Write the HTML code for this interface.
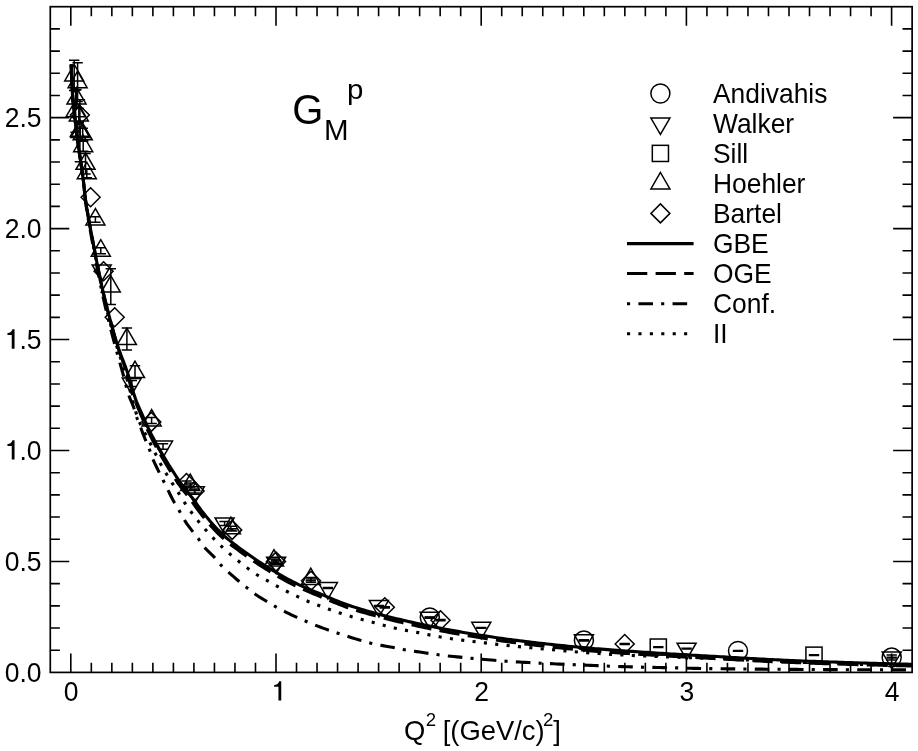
<!DOCTYPE html>
<html><head><meta charset="utf-8"><title>GMp</title>
<style>html,body{margin:0;padding:0;background:#fff}svg{display:block}text{font-family:"Liberation Sans",sans-serif;fill:#000}</style></head><body>
<svg width="918" height="751" viewBox="0 0 918 751">
<rect width="918" height="751" fill="#fff"/>
<path d="M70.80 672.40v-19.00M70.80 6.70v19.00M91.32 672.40v-9.60M91.32 6.70v9.60M111.84 672.40v-9.60M111.84 6.70v9.60M132.36 672.40v-9.60M132.36 6.70v9.60M152.88 672.40v-9.60M152.88 6.70v9.60M173.40 672.40v-9.60M173.40 6.70v9.60M193.92 672.40v-9.60M193.92 6.70v9.60M214.44 672.40v-9.60M214.44 6.70v9.60M234.96 672.40v-9.60M234.96 6.70v9.60M255.48 672.40v-9.60M255.48 6.70v9.60M276.00 672.40v-19.00M276.00 6.70v19.00M296.52 672.40v-9.60M296.52 6.70v9.60M317.04 672.40v-9.60M317.04 6.70v9.60M337.56 672.40v-9.60M337.56 6.70v9.60M358.08 672.40v-9.60M358.08 6.70v9.60M378.60 672.40v-9.60M378.60 6.70v9.60M399.12 672.40v-9.60M399.12 6.70v9.60M419.64 672.40v-9.60M419.64 6.70v9.60M440.16 672.40v-9.60M440.16 6.70v9.60M460.68 672.40v-9.60M460.68 6.70v9.60M481.20 672.40v-19.00M481.20 6.70v19.00M501.72 672.40v-9.60M501.72 6.70v9.60M522.24 672.40v-9.60M522.24 6.70v9.60M542.76 672.40v-9.60M542.76 6.70v9.60M563.28 672.40v-9.60M563.28 6.70v9.60M583.80 672.40v-9.60M583.80 6.70v9.60M604.32 672.40v-9.60M604.32 6.70v9.60M624.84 672.40v-9.60M624.84 6.70v9.60M645.36 672.40v-9.60M645.36 6.70v9.60M665.88 672.40v-9.60M665.88 6.70v9.60M686.40 672.40v-19.00M686.40 6.70v19.00M706.92 672.40v-9.60M706.92 6.70v9.60M727.44 672.40v-9.60M727.44 6.70v9.60M747.96 672.40v-9.60M747.96 6.70v9.60M768.48 672.40v-9.60M768.48 6.70v9.60M789.00 672.40v-9.60M789.00 6.70v9.60M809.52 672.40v-9.60M809.52 6.70v9.60M830.04 672.40v-9.60M830.04 6.70v9.60M850.56 672.40v-9.60M850.56 6.70v9.60M871.08 672.40v-9.60M871.08 6.70v9.60M891.60 672.40v-19.00M891.60 6.70v19.00M50.28 650.21h9.60M912.12 650.21h-9.60M50.28 628.02h9.60M912.12 628.02h-9.60M50.28 605.83h9.60M912.12 605.83h-9.60M50.28 583.64h9.60M912.12 583.64h-9.60M50.28 561.45h19.00M912.12 561.45h-19.00M50.28 539.26h9.60M912.12 539.26h-9.60M50.28 517.07h9.60M912.12 517.07h-9.60M50.28 494.88h9.60M912.12 494.88h-9.60M50.28 472.69h9.60M912.12 472.69h-9.60M50.28 450.50h19.00M912.12 450.50h-19.00M50.28 428.31h9.60M912.12 428.31h-9.60M50.28 406.12h9.60M912.12 406.12h-9.60M50.28 383.93h9.60M912.12 383.93h-9.60M50.28 361.74h9.60M912.12 361.74h-9.60M50.28 339.55h19.00M912.12 339.55h-19.00M50.28 317.36h9.60M912.12 317.36h-9.60M50.28 295.17h9.60M912.12 295.17h-9.60M50.28 272.98h9.60M912.12 272.98h-9.60M50.28 250.79h9.60M912.12 250.79h-9.60M50.28 228.60h19.00M912.12 228.60h-19.00M50.28 206.41h9.60M912.12 206.41h-9.60M50.28 184.22h9.60M912.12 184.22h-9.60M50.28 162.03h9.60M912.12 162.03h-9.60M50.28 139.84h9.60M912.12 139.84h-9.60M50.28 117.65h19.00M912.12 117.65h-19.00M50.28 95.46h9.60M912.12 95.46h-9.60M50.28 73.27h9.60M912.12 73.27h-9.60M50.28 51.08h9.60M912.12 51.08h-9.60M50.28 28.89h9.60M912.12 28.89h-9.60" stroke="#000" stroke-width="1.6" fill="none"/>
<clipPath id="fr"><rect x="50.28" y="6.70" width="861.84" height="665.70"/></clipPath>
<g clip-path="url(#fr)" fill="none" stroke="#000" stroke-width="3.1">
<path d="M71.20 64.40 L71.30 67.45 L71.41 70.50 L71.53 73.55 L71.66 76.60 L71.78 79.65 L71.92 82.70 L72.05 85.75 L72.19 88.80 L72.34 91.85 L72.53 94.90 L72.75 97.94 L73.06 100.97 L73.39 104.01 L73.73 107.04 L74.09 110.07 L74.46 113.11 L74.82 116.14 L75.16 119.17 L75.50 122.20 L75.84 125.24 L76.18 128.27 L76.52 131.30 L76.86 134.34 L77.19 137.37 L77.53 140.41 L77.90 143.44 L78.31 146.46 L78.79 149.47 L79.28 152.49 L79.75 155.50 L80.22 158.52 L80.68 161.54 L81.13 164.55 L81.58 167.57 L82.02 170.59 L82.45 173.62 L82.87 176.64 L83.26 179.67 L83.62 182.70 L83.94 185.73 L84.25 188.77 L84.56 191.81 L84.90 194.84 L85.27 197.87 L85.69 200.89 L86.13 203.91 L86.60 206.92 L87.09 209.93 L87.59 212.94 L88.12 215.95 L88.66 218.96 L89.21 221.96 L89.77 224.97 L90.33 227.97 L90.90 230.97 L91.47 233.97 L92.03 236.97 L92.59 239.97 L93.15 242.97 L93.72 245.97 L94.29 248.97 L94.86 251.97 L95.43 254.97 L96.01 257.97 L96.60 260.96 L97.19 263.96 L97.79 266.95 L98.40 269.95 L99.02 272.94 L99.64 275.92 L100.27 278.91 L100.91 281.89 L101.56 284.88 L102.22 287.85 L102.89 290.83 L103.57 293.80 L104.27 296.77 L104.99 299.74 L105.72 302.71 L106.46 305.67 L107.21 308.63 L107.97 311.58 L108.75 314.54 L109.53 317.49 L110.32 320.44 L111.12 323.38 L111.93 326.32 L112.75 329.27 L113.58 332.21 L114.42 335.14 L115.28 338.07 L116.17 340.99 L117.07 343.91 L118.01 346.81 L118.98 349.70 L120.01 352.57 L121.08 355.43 L122.18 358.28 L123.28 361.13 L124.38 363.98 L125.46 366.84 L126.51 369.70 L127.50 372.59 L128.43 375.49 L129.32 378.42 L130.18 381.35 L131.03 384.29 L131.87 387.23 L132.73 390.16 L133.61 393.08 L134.54 395.99 L135.53 398.87 L136.59 401.72 L137.76 404.54 L138.99 407.34 L140.22 410.13 L141.45 412.93 L142.68 415.72 L143.92 418.52 L145.17 421.30 L146.44 424.08 L147.72 426.85 L149.03 429.61 L150.37 432.35 L151.73 435.08 L153.13 437.78 L154.56 440.47 L156.02 443.15 L157.51 445.82 L159.02 448.48 L160.55 451.12 L162.10 453.76 L163.67 456.38 L165.24 459.00 L166.83 461.61 L168.42 464.20 L170.03 466.80 L171.66 469.38 L173.31 471.96 L174.98 474.52 L176.67 477.06 L178.38 479.59 L180.12 482.09 L181.89 484.58 L183.71 487.02 L185.59 489.42 L187.50 491.81 L189.41 494.19 L191.31 496.59 L193.17 499.01 L194.96 501.48 L196.69 504.00 L198.43 506.51 L200.25 508.95 L202.12 511.36 L204.02 513.76 L205.94 516.15 L207.89 518.53 L209.87 520.88 L211.87 523.20 L213.91 525.49 L215.98 527.74 L218.08 529.95 L220.22 532.10 L222.39 534.20 L224.62 536.24 L226.90 538.23 L229.25 540.18 L231.63 542.10 L234.06 543.97 L236.51 545.82 L238.98 547.65 L241.46 549.45 L243.94 551.24 L246.41 553.03 L248.89 554.79 L251.40 556.54 L253.91 558.27 L256.45 559.98 L258.99 561.67 L261.55 563.34 L264.12 564.99 L266.71 566.62 L269.30 568.23 L271.90 569.82 L274.51 571.40 L277.13 572.97 L279.77 574.53 L282.41 576.06 L285.07 577.56 L287.75 579.04 L290.44 580.47 L293.15 581.87 L295.87 583.22 L298.62 584.54 L301.39 585.82 L304.17 587.07 L306.97 588.30 L309.78 589.50 L312.59 590.70 L315.41 591.88 L318.23 593.05 L321.05 594.23 L323.86 595.41 L326.68 596.60 L329.50 597.79 L332.32 598.97 L335.15 600.13 L337.98 601.28 L340.83 602.39 L343.68 603.47 L346.54 604.51 L349.42 605.51 L352.31 606.46 L355.20 607.38 L358.11 608.29 L361.03 609.18 L363.95 610.05 L366.89 610.91 L369.83 611.74 L372.77 612.56 L375.72 613.37 L378.68 614.16 L381.63 614.94 L384.60 615.70 L387.56 616.45 L390.52 617.20 L393.49 617.93 L396.46 618.65 L399.42 619.36 L402.39 620.07 L405.36 620.76 L408.33 621.45 L411.31 622.12 L414.29 622.79 L417.27 623.45 L420.25 624.10 L423.24 624.74 L426.23 625.36 L429.22 625.98 L432.21 626.59 L435.21 627.19 L438.20 627.78 L441.20 628.36 L444.20 628.93 L447.20 629.49 L450.20 630.04 L453.20 630.58 L456.21 631.11 L459.21 631.64 L462.22 632.17 L465.23 632.68 L468.24 633.20 L471.25 633.70 L474.26 634.20 L477.28 634.69 L480.29 635.17 L483.31 635.65 L486.33 636.12 L489.35 636.58 L492.37 637.03 L495.39 637.47 L498.41 637.91 L501.43 638.34 L504.45 638.76 L507.48 639.17 L510.50 639.57 L513.52 639.96 L516.55 640.35 L519.58 640.73 L522.61 641.11 L525.63 641.49 L528.66 641.86 L531.70 642.22 L534.73 642.58 L537.76 642.94 L540.79 643.29 L543.83 643.64 L546.86 643.98 L549.90 644.31 L552.93 644.64 L555.97 644.96 L559.01 645.28 L562.04 645.60 L565.08 645.90 L568.12 646.20 L571.16 646.50 L574.20 646.79 L577.23 647.08 L580.27 647.35 L583.31 647.63 L586.35 647.89 L589.39 648.16 L592.43 648.41 L595.47 648.67 L598.52 648.91 L601.56 649.16 L604.60 649.40 L607.64 649.63 L610.69 649.86 L613.73 650.09 L616.78 650.32 L619.82 650.54 L622.87 650.75 L625.91 650.97 L628.96 651.18 L632.00 651.39 L635.05 651.60 L638.10 651.81 L641.14 652.01 L644.19 652.22 L647.23 652.42 L650.28 652.62 L653.32 652.82 L656.37 653.01 L659.42 653.20 L662.46 653.39 L665.51 653.58 L668.56 653.76 L671.60 653.95 L674.65 654.13 L677.70 654.31 L680.74 654.48 L683.79 654.66 L686.84 654.83 L689.89 655.01 L692.93 655.18 L695.98 655.35 L699.03 655.52 L702.08 655.69 L705.12 655.86 L708.17 656.03 L711.22 656.21 L714.27 656.38 L717.32 656.55 L720.36 656.72 L723.41 656.89 L726.46 657.07 L729.50 657.25 L732.55 657.43 L735.60 657.60 L738.65 657.78 L741.69 657.96 L744.74 658.14 L747.79 658.31 L750.84 658.49 L753.88 658.66 L756.93 658.83 L759.98 659.00 L763.03 659.16 L766.08 659.32 L769.12 659.48 L772.17 659.63 L775.22 659.78 L778.27 659.92 L781.32 660.06 L784.37 660.19 L787.42 660.32 L790.47 660.45 L793.52 660.58 L796.57 660.70 L799.62 660.83 L802.67 660.95 L805.72 661.07 L808.77 661.18 L811.82 661.30 L814.87 661.41 L817.92 661.52 L820.97 661.63 L824.02 661.74 L827.07 661.85 L830.12 661.95 L833.17 662.05 L836.22 662.16 L839.27 662.26 L842.32 662.36 L845.37 662.45 L848.42 662.55 L851.48 662.65 L854.53 662.74 L857.58 662.83 L860.63 662.93 L863.68 663.02 L866.73 663.11 L869.78 663.20 L872.83 663.28 L875.88 663.37 L878.93 663.46 L881.99 663.54 L885.04 663.62 L888.09 663.70 L891.14 663.78 L894.19 663.86 L897.24 663.94 L900.29 664.01 L903.35 664.09 L906.40 664.16 L909.45 664.23 L912.50 664.30"/>
<path d="M71.20 64.40 L71.30 67.46 L71.42 70.51 L71.53 73.57 L71.66 76.63 L71.79 79.69 L71.92 82.74 L72.05 85.80 L72.19 88.86 L72.35 91.91 L72.53 94.96 L72.76 98.01 L73.07 101.06 L73.40 104.10 L73.74 107.14 L74.10 110.18 L74.47 113.22 L74.83 116.25 L75.18 119.29 L75.52 122.33 L75.86 125.37 L76.20 128.41 L76.54 131.45 L76.88 134.49 L77.21 137.54 L77.55 140.58 L77.92 143.61 L78.34 146.64 L78.82 149.66 L79.31 152.69 L79.78 155.71 L80.25 158.73 L80.71 161.75 L81.17 164.78 L81.61 167.81 L82.05 170.83 L82.49 173.86 L82.90 176.89 L83.29 179.93 L83.64 182.97 L83.97 186.01 L84.28 189.06 L84.59 192.10 L84.93 195.14 L85.31 198.17 L85.73 201.20 L86.18 204.22 L86.65 207.24 L87.14 210.26 L87.65 213.28 L88.18 216.29 L88.72 219.31 L89.27 222.32 L89.83 225.33 L90.40 228.34 L90.97 231.35 L91.54 234.35 L92.11 237.36 L92.67 240.37 L93.23 243.37 L93.80 246.38 L94.36 249.39 L94.94 252.39 L95.52 255.40 L96.10 258.40 L96.69 261.41 L97.28 264.41 L97.89 267.41 L98.50 270.41 L99.11 273.40 L99.74 276.40 L100.37 279.39 L101.01 282.38 L101.67 285.37 L102.33 288.35 L103.00 291.34 L103.69 294.31 L104.40 297.29 L105.13 300.26 L105.86 303.23 L106.61 306.20 L107.37 309.17 L108.14 312.13 L108.91 315.09 L109.69 318.05 L110.48 321.00 L111.27 323.96 L112.06 326.91 L112.86 329.87 L113.67 332.82 L114.49 335.77 L115.32 338.72 L116.18 341.65 L117.06 344.58 L117.96 347.50 L118.92 350.40 L119.92 353.29 L120.96 356.17 L122.03 359.04 L123.09 361.91 L124.15 364.78 L125.18 367.66 L126.18 370.56 L127.12 373.47 L128.00 376.39 L128.84 379.34 L129.66 382.29 L130.46 385.25 L131.27 388.21 L132.09 391.16 L132.95 394.09 L133.85 397.01 L134.81 399.90 L135.87 402.77 L137.02 405.60 L138.22 408.43 L139.41 411.24 L140.60 414.06 L141.80 416.88 L143.01 419.70 L144.23 422.50 L145.47 425.31 L146.73 428.10 L148.01 430.87 L149.32 433.63 L150.65 436.38 L152.03 439.10 L153.43 441.82 L154.87 444.52 L156.33 447.21 L157.81 449.89 L159.32 452.56 L160.84 455.22 L162.38 457.87 L163.93 460.50 L165.48 463.13 L167.05 465.76 L168.64 468.38 L170.24 470.99 L171.87 473.58 L173.51 476.17 L175.18 478.73 L176.87 481.28 L178.59 483.81 L180.33 486.32 L182.14 488.78 L183.99 491.21 L185.87 493.63 L187.76 496.04 L189.63 498.47 L191.47 500.91 L193.25 503.40 L194.98 505.93 L196.74 508.44 L198.58 510.87 L200.46 513.28 L202.36 515.69 L204.29 518.08 L206.25 520.46 L208.24 522.81 L210.25 525.14 L212.30 527.43 L214.37 529.68 L216.48 531.89 L218.63 534.04 L220.81 536.14 L223.04 538.18 L225.34 540.18 L227.69 542.13 L230.08 544.05 L232.51 545.93 L234.97 547.78 L237.44 549.61 L239.92 551.42 L242.41 553.22 L244.88 555.01 L247.37 556.78 L249.88 558.53 L252.40 560.27 L254.94 561.98 L257.49 563.68 L260.06 565.35 L262.64 567.01 L265.22 568.64 L267.82 570.26 L270.42 571.85 L273.04 573.44 L275.67 575.01 L278.31 576.57 L280.96 578.11 L283.63 579.62 L286.31 581.10 L289.00 582.54 L291.71 583.95 L294.44 585.31 L297.19 586.63 L299.96 587.92 L302.75 589.18 L305.56 590.41 L308.37 591.62 L311.19 592.82 L314.02 594.00 L316.84 595.18 L319.67 596.36 L322.49 597.55 L325.31 598.74 L328.13 599.93 L330.96 601.11 L333.80 602.28 L336.64 603.43 L339.48 604.55 L342.34 605.64 L345.21 606.69 L348.09 607.70 L350.98 608.65 L353.88 609.59 L356.80 610.50 L359.72 611.40 L362.65 612.27 L365.59 613.13 L368.53 613.97 L371.48 614.80 L374.44 615.61 L377.40 616.41 L380.36 617.19 L383.33 617.96 L386.30 618.71 L389.27 619.46 L392.24 620.20 L395.22 620.92 L398.19 621.64 L401.16 622.35 L404.14 623.04 L407.12 623.73 L410.10 624.41 L413.08 625.09 L416.07 625.75 L419.06 626.40 L422.06 627.04 L425.05 627.67 L428.05 628.30 L431.05 628.91 L434.05 629.51 L437.05 630.10 L440.06 630.69 L443.06 631.26 L446.07 631.82 L449.08 632.37 L452.08 632.92 L455.09 633.45 L458.11 633.99 L461.12 634.51 L464.13 635.03 L467.15 635.55 L470.17 636.05 L473.19 636.56 L476.21 637.05 L479.23 637.53 L482.25 638.01 L485.28 638.48 L488.30 638.95 L491.33 639.40 L494.36 639.85 L497.39 640.29 L500.42 640.72 L503.45 641.14 L506.48 641.55 L509.51 641.96 L512.54 642.35 L515.57 642.74 L518.60 643.13 L521.64 643.51 L524.67 643.89 L527.71 644.27 L530.75 644.64 L533.79 645.00 L536.83 645.36 L539.87 645.71 L542.91 646.06 L545.95 646.40 L548.99 646.74 L552.03 647.07 L555.07 647.40 L558.12 647.72 L561.16 648.04 L564.21 648.34 L567.25 648.65 L570.30 648.94 L573.34 649.23 L576.39 649.52 L579.43 649.79 L582.48 650.06 L585.53 650.33 L588.57 650.59 L591.62 650.84 L594.67 651.09 L597.72 651.33 L600.77 651.57 L603.82 651.81 L606.87 652.04 L609.92 652.26 L612.97 652.49 L616.02 652.70 L619.08 652.92 L622.13 653.13 L625.18 653.34 L628.24 653.55 L631.29 653.75 L634.34 653.95 L637.39 654.15 L640.45 654.35 L643.50 654.55 L646.55 654.74 L649.61 654.94 L652.66 655.13 L655.71 655.31 L658.77 655.50 L661.82 655.68 L664.88 655.86 L667.93 656.04 L670.98 656.21 L674.04 656.38 L677.09 656.55 L680.15 656.72 L683.20 656.89 L686.26 657.06 L689.31 657.22 L692.37 657.39 L695.42 657.55 L698.48 657.71 L701.53 657.87 L704.59 658.04 L707.64 658.20 L710.70 658.36 L713.75 658.52 L716.81 658.69 L719.86 658.85 L722.92 659.01 L725.97 659.18 L729.03 659.35 L732.08 659.52 L735.14 659.69 L738.19 659.86 L741.25 660.03 L744.30 660.20 L747.36 660.37 L750.41 660.53 L753.47 660.70 L756.52 660.86 L759.58 661.02 L762.63 661.18 L765.69 661.33 L768.74 661.48 L771.80 661.62 L774.85 661.76 L777.91 661.89 L780.97 662.02 L784.02 662.15 L787.08 662.27 L790.14 662.39 L793.19 662.51 L796.25 662.63 L799.31 662.74 L802.36 662.85 L805.42 662.96 L808.48 663.07 L811.54 663.18 L814.59 663.28 L817.65 663.39 L820.71 663.49 L823.77 663.59 L826.82 663.68 L829.88 663.78 L832.94 663.88 L836.00 663.97 L839.06 664.06 L842.11 664.15 L845.17 664.24 L848.23 664.33 L851.29 664.42 L854.35 664.50 L857.40 664.59 L860.46 664.67 L863.52 664.75 L866.58 664.83 L869.64 664.91 L872.70 664.99 L875.75 665.07 L878.81 665.15 L881.87 665.22 L884.93 665.30 L887.99 665.37 L891.05 665.44 L894.10 665.51 L897.16 665.58 L900.22 665.65 L903.28 665.71 L906.34 665.77 L909.40 665.84 L912.46 665.90" stroke-dasharray="20.3 8.3" stroke-dashoffset="-2.5"/>
<path d="M71.20 64.40 L71.31 67.52 L71.42 70.64 L71.54 73.76 L71.67 76.88 L71.80 80.00 L71.93 83.12 L72.07 86.24 L72.21 89.36 L72.38 92.48 L72.57 95.60 L72.82 98.71 L73.15 101.81 L73.49 104.92 L73.84 108.02 L74.22 111.12 L74.59 114.22 L74.95 117.32 L75.30 120.43 L75.65 123.53 L76.00 126.63 L76.34 129.74 L76.69 132.84 L77.04 135.94 L77.38 139.05 L77.74 142.15 L78.13 145.25 L78.60 148.33 L79.11 151.42 L79.59 154.50 L80.07 157.59 L80.55 160.67 L81.02 163.76 L81.47 166.85 L81.93 169.94 L82.39 173.03 L82.81 176.12 L83.21 179.22 L83.55 182.32 L83.85 185.43 L84.13 188.54 L84.40 191.65 L84.70 194.76 L85.04 197.86 L85.43 200.96 L85.85 204.05 L86.30 207.14 L86.77 210.22 L87.27 213.31 L87.78 216.39 L88.31 219.47 L88.85 222.55 L89.40 225.62 L89.96 228.70 L90.52 231.77 L91.08 234.85 L91.63 237.92 L92.18 241.00 L92.72 244.07 L93.28 247.14 L93.83 250.22 L94.40 253.29 L94.96 256.36 L95.54 259.43 L96.11 262.50 L96.70 265.57 L97.29 268.63 L97.89 271.70 L98.49 274.76 L99.10 277.83 L99.72 280.89 L100.34 283.95 L100.97 287.00 L101.61 290.06 L102.26 293.11 L102.92 296.16 L103.60 299.21 L104.28 302.26 L104.98 305.30 L105.68 308.35 L106.40 311.39 L107.12 314.43 L107.85 317.46 L108.58 320.50 L109.33 323.53 L110.08 326.56 L110.85 329.58 L111.64 332.61 L112.43 335.63 L113.23 338.65 L114.03 341.67 L114.85 344.68 L115.66 347.70 L116.49 350.71 L117.33 353.71 L118.18 356.72 L119.04 359.72 L119.89 362.72 L120.75 365.73 L121.59 368.73 L122.43 371.74 L123.24 374.76 L124.01 377.79 L124.77 380.83 L125.53 383.86 L126.32 386.89 L127.14 389.90 L128.02 392.88 L128.99 395.84 L130.13 398.74 L131.36 401.62 L132.59 404.50 L133.70 407.41 L134.63 410.39 L135.49 413.40 L136.40 416.39 L137.44 419.32 L138.58 422.23 L139.74 425.14 L140.87 428.05 L141.97 430.97 L143.07 433.90 L144.18 436.81 L145.33 439.71 L146.56 442.59 L147.81 445.45 L149.02 448.33 L150.12 451.25 L151.13 454.21 L152.17 457.15 L153.32 460.05 L154.58 462.90 L155.92 465.72 L157.29 468.54 L158.65 471.35 L160.05 474.14 L161.45 476.93 L162.86 479.72 L164.25 482.52 L165.63 485.32 L167.01 488.12 L168.40 490.91 L169.77 493.72 L171.16 496.52 L172.58 499.30 L174.07 502.04 L175.64 504.74 L177.27 507.40 L178.88 510.08 L180.41 512.80 L181.86 515.57 L183.35 518.32 L184.97 520.97 L186.73 523.55 L188.57 526.07 L190.46 528.57 L192.35 531.07 L194.27 533.53 L196.22 535.97 L198.14 538.43 L199.96 540.97 L201.71 543.58 L203.50 546.13 L205.47 548.52 L207.65 550.74 L209.93 552.89 L212.21 555.05 L214.38 557.29 L216.39 559.68 L218.34 562.13 L220.35 564.52 L222.53 566.74 L224.82 568.87 L227.15 570.96 L229.47 573.05 L231.80 575.13 L234.14 577.20 L236.50 579.25 L238.88 581.27 L241.29 583.25 L243.73 585.20 L246.17 587.14 L248.60 589.11 L251.02 591.10 L253.48 593.01 L256.03 594.79 L258.65 596.48 L261.32 598.12 L264.00 599.73 L266.68 601.35 L269.34 602.97 L272.02 604.59 L274.71 606.16 L277.43 607.70 L280.17 609.20 L282.93 610.66 L285.72 612.07 L288.52 613.44 L291.34 614.79 L294.17 616.11 L297.01 617.40 L299.87 618.67 L302.72 619.93 L305.59 621.17 L308.47 622.39 L311.35 623.59 L314.25 624.77 L317.15 625.91 L320.07 627.02 L322.99 628.11 L325.93 629.16 L328.87 630.20 L331.82 631.22 L334.79 632.22 L337.75 633.20 L340.73 634.16 L343.70 635.12 L346.68 636.06 L349.66 636.99 L352.64 637.93 L355.62 638.86 L358.61 639.79 L361.60 640.70 L364.60 641.57 L367.61 642.39 L370.64 643.14 L373.67 643.82 L376.73 644.46 L379.79 645.06 L382.87 645.63 L385.94 646.19 L389.02 646.74 L392.09 647.31 L395.16 647.90 L398.22 648.51 L401.29 649.11 L404.36 649.66 L407.44 650.18 L410.52 650.67 L413.61 651.15 L416.69 651.62 L419.78 652.07 L422.87 652.53 L425.96 652.99 L429.05 653.46 L432.14 653.94 L435.23 654.40 L438.32 654.83 L441.42 655.21 L444.52 655.56 L447.62 655.90 L450.73 656.22 L453.84 656.54 L456.94 656.85 L460.05 657.16 L463.16 657.47 L466.27 657.77 L469.38 658.07 L472.48 658.36 L475.59 658.65 L478.70 658.92 L481.82 659.20 L484.93 659.47 L488.04 659.74 L491.15 660.00 L494.26 660.26 L497.37 660.53 L500.48 660.80 L503.60 661.05 L506.71 661.29 L509.82 661.49 L512.94 661.68 L516.06 661.86 L519.18 662.04 L522.30 662.21 L525.41 662.38 L528.53 662.55 L531.65 662.72 L534.77 662.88 L537.89 663.05 L541.00 663.21 L544.12 663.37 L547.24 663.52 L550.36 663.67 L553.48 663.82 L556.60 663.96 L559.72 664.10 L562.84 664.23 L565.96 664.36 L569.08 664.49 L572.20 664.61 L575.32 664.74 L578.44 664.87 L581.56 665.01 L584.68 665.14 L587.80 665.27 L590.92 665.41 L594.04 665.54 L597.16 665.67 L600.28 665.80 L603.40 665.93 L606.52 666.06 L609.64 666.18 L612.76 666.29 L615.88 666.41 L619.00 666.52 L622.12 666.62 L625.24 666.72 L628.36 666.80 L631.49 666.89 L634.61 666.96 L637.73 667.04 L640.85 667.11 L643.97 667.19 L647.09 667.25 L650.22 667.32 L653.34 667.39 L656.46 667.46 L659.58 667.53 L662.70 667.59 L665.83 667.66 L668.95 667.72 L672.07 667.78 L675.19 667.85 L678.31 667.92 L681.44 668.00 L684.56 668.09 L687.68 668.18 L690.80 668.27 L693.92 668.35 L697.04 668.41 L700.17 668.46 L703.29 668.51 L706.41 668.55 L709.53 668.60 L712.65 668.64 L715.78 668.69 L718.90 668.73 L722.02 668.77 L725.14 668.80 L728.27 668.84 L731.39 668.87 L734.51 668.91 L737.63 668.94 L740.76 668.97 L743.88 669.00 L747.00 669.03 L750.12 669.06 L753.25 669.09 L756.37 669.11 L759.49 669.14 L762.61 669.17 L765.74 669.19 L768.86 669.22 L771.98 669.24 L775.10 669.26 L778.23 669.29 L781.35 669.31 L784.47 669.33 L787.60 669.35 L790.72 669.38 L793.84 669.40 L796.96 669.42 L800.09 669.44 L803.21 669.46 L806.33 669.48 L809.45 669.50 L812.58 669.52 L815.70 669.53 L818.82 669.55 L821.94 669.57 L825.07 669.58 L828.19 669.60 L831.31 669.62 L834.43 669.63 L837.56 669.65 L840.68 669.66 L843.80 669.67 L846.92 669.69 L850.05 669.70 L853.17 669.71 L856.29 669.73 L859.42 669.74 L862.54 669.75 L865.66 669.76 L868.78 669.77 L871.91 669.78 L875.03 669.80 L878.15 669.81 L881.27 669.82 L884.40 669.83 L887.52 669.84 L890.64 669.85 L893.76 669.85 L896.89 669.86 L900.01 669.87 L903.13 669.88 L906.25 669.89 L909.38 669.89 L912.50 669.90" stroke-dasharray="3.1 8.3 14.6 8.15" stroke-dashoffset="15.9"/>
<path d="M71.20 64.40 L71.30 67.48 L71.42 70.56 L71.54 73.63 L71.66 76.71 L71.79 79.79 L71.92 82.86 L72.06 85.94 L72.20 89.02 L72.36 92.09 L72.54 95.17 L72.78 98.23 L73.09 101.30 L73.43 104.36 L73.77 107.42 L74.14 110.48 L74.51 113.54 L74.87 116.59 L75.22 119.65 L75.56 122.71 L75.90 125.78 L76.24 128.84 L76.59 131.90 L76.93 134.96 L77.26 138.02 L77.61 141.08 L77.99 144.13 L78.42 147.18 L78.91 150.22 L79.40 153.26 L79.87 156.31 L80.35 159.35 L80.81 162.39 L81.26 165.44 L81.71 168.49 L82.16 171.53 L82.59 174.58 L83.00 177.64 L83.38 180.69 L83.73 183.75 L84.04 186.82 L84.35 189.88 L84.67 192.94 L85.01 196.00 L85.40 199.05 L85.82 202.10 L86.27 205.15 L86.74 208.19 L87.23 211.23 L87.74 214.27 L88.26 217.30 L88.80 220.34 L89.34 223.37 L89.89 226.40 L90.45 229.43 L91.01 232.46 L91.57 235.49 L92.13 238.52 L92.68 241.55 L93.24 244.58 L93.80 247.61 L94.37 250.63 L94.94 253.66 L95.51 256.69 L96.09 259.71 L96.68 262.74 L97.28 265.76 L97.88 268.78 L98.48 271.80 L99.10 274.82 L99.72 277.83 L100.34 280.85 L100.98 283.86 L101.62 286.87 L102.27 289.88 L102.94 292.89 L103.61 295.89 L104.29 298.89 L104.99 301.90 L105.70 304.89 L106.41 307.89 L107.14 310.88 L107.88 313.87 L108.63 316.86 L109.39 319.84 L110.16 322.82 L110.95 325.80 L111.75 328.77 L112.56 331.74 L113.39 334.71 L114.23 337.67 L115.09 340.63 L115.96 343.59 L116.83 346.54 L117.73 349.48 L118.66 352.42 L119.62 355.35 L120.59 358.27 L121.56 361.19 L122.53 364.12 L123.48 367.05 L124.39 369.99 L125.28 372.94 L126.13 375.89 L126.95 378.86 L127.76 381.83 L128.56 384.81 L129.35 387.78 L130.14 390.76 L130.93 393.74 L131.73 396.71 L132.54 399.68 L133.34 402.66 L134.11 405.66 L134.89 408.65 L135.70 411.63 L136.59 414.56 L137.57 417.45 L138.69 420.29 L139.91 423.10 L141.22 425.88 L142.60 428.64 L144.02 431.39 L145.47 434.13 L146.93 436.86 L148.37 439.60 L149.78 442.35 L151.15 445.11 L152.52 447.87 L153.90 450.62 L155.29 453.37 L156.65 456.13 L158.00 458.90 L159.37 461.66 L160.81 464.38 L162.31 467.06 L163.87 469.72 L165.46 472.36 L167.06 474.99 L168.69 477.61 L170.34 480.21 L172.00 482.80 L173.66 485.40 L175.32 487.99 L176.99 490.58 L178.65 493.17 L180.29 495.78 L181.92 498.39 L183.56 501.00 L185.25 503.57 L186.98 506.12 L188.75 508.64 L190.55 511.14 L192.38 513.61 L194.24 516.07 L196.14 518.50 L198.06 520.90 L200.01 523.28 L202.00 525.64 L204.01 527.97 L206.04 530.28 L208.09 532.58 L210.17 534.85 L212.27 537.11 L214.40 539.33 L216.55 541.54 L218.73 543.72 L220.93 545.87 L223.17 547.98 L225.44 550.06 L227.74 552.11 L230.07 554.13 L232.42 556.11 L234.79 558.07 L237.19 560.01 L239.59 561.93 L242.00 563.85 L244.43 565.75 L246.88 567.62 L249.36 569.44 L251.85 571.25 L254.38 573.02 L256.95 574.71 L259.58 576.30 L262.26 577.82 L264.96 579.31 L267.64 580.82 L270.31 582.36 L272.98 583.89 L275.66 585.41 L278.36 586.90 L281.06 588.38 L283.78 589.83 L286.51 591.25 L289.27 592.62 L292.05 593.94 L294.84 595.25 L297.63 596.55 L300.40 597.89 L303.18 599.22 L305.98 600.51 L308.81 601.72 L311.67 602.83 L314.56 603.91 L317.46 604.97 L320.34 606.06 L323.21 607.16 L326.09 608.25 L328.99 609.30 L331.89 610.32 L334.80 611.32 L337.72 612.31 L340.65 613.28 L343.58 614.23 L346.52 615.15 L349.46 616.04 L352.42 616.90 L355.38 617.73 L358.35 618.54 L361.33 619.33 L364.31 620.11 L367.29 620.88 L370.27 621.66 L373.25 622.45 L376.23 623.25 L379.20 624.07 L382.17 624.89 L385.14 625.70 L388.12 626.48 L391.11 627.23 L394.10 627.93 L397.10 628.59 L400.12 629.20 L403.14 629.79 L406.17 630.36 L409.20 630.91 L412.23 631.47 L415.26 632.04 L418.28 632.63 L421.30 633.25 L424.32 633.87 L427.33 634.50 L430.35 635.12 L433.37 635.72 L436.40 636.30 L439.43 636.84 L442.46 637.34 L445.50 637.82 L448.55 638.28 L451.60 638.73 L454.65 639.16 L457.70 639.57 L460.75 639.98 L463.80 640.38 L466.86 640.77 L469.92 641.14 L472.97 641.50 L476.03 641.85 L479.09 642.20 L482.15 642.56 L485.21 642.91 L488.27 643.28 L491.33 643.64 L494.39 644.01 L497.44 644.37 L500.50 644.72 L503.56 645.07 L506.62 645.41 L509.69 645.73 L512.75 646.04 L515.81 646.34 L518.88 646.64 L521.94 646.93 L525.01 647.22 L528.08 647.51 L531.14 647.79 L534.21 648.08 L537.28 648.37 L540.34 648.65 L543.41 648.93 L546.48 649.21 L549.54 649.49 L552.61 649.77 L555.68 650.04 L558.74 650.32 L561.81 650.60 L564.88 650.88 L567.94 651.15 L571.01 651.42 L574.08 651.68 L577.15 651.94 L580.22 652.18 L583.29 652.42 L586.36 652.65 L589.43 652.88 L592.50 653.10 L595.57 653.31 L598.65 653.52 L601.72 653.73 L604.79 653.94 L607.87 654.14 L610.94 654.34 L614.01 654.53 L617.09 654.71 L620.16 654.89 L623.24 655.05 L626.31 655.20 L629.39 655.35 L632.46 655.49 L635.54 655.62 L638.62 655.75 L641.69 655.88 L644.77 656.01 L647.85 656.13 L650.93 656.25 L654.00 656.37 L657.08 656.49 L660.16 656.61 L663.23 656.72 L666.31 656.84 L669.39 656.95 L672.47 657.06 L675.54 657.16 L678.62 657.27 L681.70 657.37 L684.78 657.47 L687.86 657.57 L690.93 657.68 L694.01 657.78 L697.09 657.88 L700.17 657.98 L703.24 658.09 L706.32 658.19 L709.40 658.30 L712.48 658.41 L715.55 658.53 L718.63 658.65 L721.71 658.77 L724.79 658.89 L727.86 659.02 L730.94 659.16 L734.02 659.29 L737.09 659.43 L740.17 659.57 L743.24 659.72 L746.32 659.86 L749.40 660.00 L752.47 660.15 L755.55 660.30 L758.62 660.44 L761.70 660.58 L764.78 660.73 L767.85 660.87 L770.93 661.01 L774.01 661.14 L777.08 661.28 L780.16 661.41 L783.24 661.53 L786.31 661.66 L789.39 661.79 L792.47 661.92 L795.54 662.04 L798.62 662.17 L801.70 662.29 L804.77 662.42 L807.85 662.54 L810.93 662.67 L814.01 662.79 L817.08 662.91 L820.16 663.03 L823.24 663.15 L826.32 663.26 L829.39 663.38 L832.47 663.49 L835.55 663.60 L838.63 663.71 L841.70 663.82 L844.78 663.93 L847.86 664.03 L850.94 664.13 L854.01 664.23 L857.09 664.33 L860.17 664.43 L863.25 664.53 L866.32 664.62 L869.40 664.72 L872.48 664.81 L875.56 664.90 L878.64 664.99 L881.72 665.08 L884.79 665.17 L887.87 665.26 L890.95 665.34 L894.03 665.43 L897.11 665.51 L900.19 665.59 L903.26 665.67 L906.34 665.75 L909.42 665.82 L912.50 665.90" stroke-dasharray="3.1 8.32"/>
</g>
<g fill="none" stroke="#000" stroke-width="1.5" stroke-linejoin="miter">
<path d="M74.20 64.43 L64.70 80.88 L83.70 80.88Z"/>
<path d="M74.20 60.20V90.60M69.00 60.20H79.40M69.00 90.60H79.40"/>
<path d="M77.60 71.23 L68.10 87.68 L87.10 87.68Z"/>
<path d="M77.60 62.80V101.60M72.40 62.80H82.80M72.40 101.60H82.80"/>
<path d="M76.50 87.53 L67.00 103.98 L86.00 103.98Z"/>
<path d="M76.50 89.50V107.50M71.30 89.50H81.70M71.30 107.50H81.70"/>
<path d="M75.60 100.23 L66.10 116.68 L85.10 116.68Z"/>
<path d="M75.60 90.20V132.20M70.40 90.20H80.80M70.40 132.20H80.80"/>
<path d="M78.80 104.53 L69.30 120.98 L88.30 120.98Z"/>
<path d="M78.80 108.50V122.50M73.60 108.50H84.00M73.60 122.50H84.00"/>
<path d="M79.90 119.73 L70.40 136.18 L89.40 136.18Z"/>
<path d="M79.90 99.70V161.70M74.70 99.70H85.10M74.70 161.70H85.10"/>
<path d="M80.30 121.13 L70.80 137.58 L89.80 137.58Z"/>
<path d="M80.30 127.10V137.10M75.10 127.10H85.50M75.10 137.10H85.50"/>
<path d="M82.70 123.33 L73.20 139.78 L92.20 139.78Z"/>
<path d="M82.70 128.30V140.30M77.50 128.30H87.90M77.50 140.30H87.90"/>
<path d="M83.20 135.23 L73.70 151.68 L92.70 151.68Z"/>
<path d="M83.20 141.20V151.20M78.00 141.20H88.40M78.00 151.20H88.40"/>
<path d="M85.50 152.83 L76.00 169.28 L95.00 169.28Z"/>
<path d="M85.50 153.60V174.00M80.30 153.60H90.70M80.30 174.00H90.70"/>
<path d="M86.80 162.23 L77.30 178.68 L96.30 178.68Z"/>
<path d="M86.80 168.70V177.70M81.60 168.70H92.00M81.60 177.70H92.00"/>
<path d="M95.40 208.53 L85.90 224.98 L104.90 224.98Z"/>
<path d="M95.40 216.80V222.20M90.20 216.80H100.60M90.20 222.20H100.60"/>
<path d="M100.80 239.73 L91.30 256.18 L110.30 256.18Z"/>
<path d="M100.80 247.70V253.70M95.60 247.70H106.00M95.60 253.70H106.00"/>
<path d="M110.80 275.63 L101.30 292.08 L120.30 292.08Z"/>
<path d="M110.80 268.70V304.50M105.60 268.70H116.00M105.60 304.50H116.00"/>
<path d="M126.90 328.13 L117.40 344.58 L136.40 344.58Z"/>
<path d="M126.90 328.10V350.10M121.70 328.10H132.10M121.70 350.10H132.10"/>
<path d="M135.00 361.13 L125.50 377.58 L144.50 377.58Z"/>
<path d="M135.00 365.70V378.50M129.80 365.70H140.20M129.80 378.50H140.20"/>
<path d="M151.60 409.53 L142.10 425.98 L161.10 425.98Z"/>
<path d="M151.60 417.50V423.50M146.40 417.50H156.80M146.40 423.50H156.80"/>
<path d="M190.20 474.03 L180.70 490.48 L199.70 490.48Z"/>
<path d="M190.20 483.00V487.00M185.00 483.00H195.40M185.00 487.00H195.40"/>
<path d="M230.90 517.23 L221.40 533.68 L240.40 533.68Z"/>
<path d="M230.90 526.20V530.20M225.70 526.20H236.10M225.70 530.20H236.10"/>
<path d="M274.00 549.63 L264.50 566.08 L283.50 566.08Z"/>
<path d="M274.00 559.00V562.20M268.80 559.00H279.20M268.80 562.20H279.20"/>
<path d="M310.80 568.13 L301.30 584.58 L320.30 584.58Z"/>
<path d="M310.80 577.50V580.70M305.60 577.50H316.00M305.60 580.70H316.00"/>
<path d="M79.80 105.50 L89.30 115.00 L79.80 124.50 L70.30 115.00Z"/>
<path d="M90.60 187.80 L100.10 197.30 L90.60 206.80 L81.10 197.30Z"/>
<path d="M103.60 261.80 L113.10 271.30 L103.60 280.80 L94.10 271.30Z"/>
<path d="M114.70 307.80 L124.20 317.30 L114.70 326.80 L105.20 317.30Z"/>
<path d="M151.30 412.40 L160.80 421.90 L151.30 431.40 L141.80 421.90Z"/>
<path d="M186.50 473.50 L196.00 483.00 L186.50 492.50 L177.00 483.00Z"/>
<path d="M186.50 481.00V485.00M181.30 481.00H191.70M181.30 485.00H191.70"/>
<path d="M194.60 481.50 L204.10 491.00 L194.60 500.50 L185.10 491.00Z"/>
<path d="M194.60 489.00V493.00M189.40 489.00H199.80M189.40 493.00H199.80"/>
<path d="M232.20 520.40 L241.70 529.90 L232.20 539.40 L222.70 529.90Z"/>
<path d="M232.20 528.70V531.10M227.00 528.70H237.40M227.00 531.10H237.40"/>
<path d="M276.00 552.10 L285.50 561.60 L276.00 571.10 L266.50 561.60Z"/>
<path d="M276.00 560.00V563.20M270.80 560.00H281.20M270.80 563.20H281.20"/>
<path d="M311.00 571.20 L320.50 580.70 L311.00 590.20 L301.50 580.70Z"/>
<path d="M311.00 579.10V582.30M305.80 579.10H316.20M305.80 582.30H316.20"/>
<path d="M384.80 597.80 L394.30 607.30 L384.80 616.80 L375.30 607.30Z"/>
<path d="M384.80 606.70V607.90M379.60 606.70H390.00M379.60 607.90H390.00"/>
<path d="M440.50 610.70 L450.00 620.20 L440.50 629.70 L431.00 620.20Z"/>
<path d="M440.50 619.60V620.80M435.30 619.60H445.70M435.30 620.80H445.70"/>
<path d="M624.70 634.50 L634.20 644.00 L624.70 653.50 L615.20 644.00Z"/>
<path d="M624.70 643.60V644.40M619.50 643.60H629.90M619.50 644.40H629.90"/>
<path d="M101.70 281.37 L92.20 264.92 L111.20 264.92Z"/>
<path d="M131.80 394.47 L122.30 378.02 L141.30 378.02Z"/>
<path d="M131.80 380.50V386.50M126.60 380.50H137.00M126.60 386.50H137.00"/>
<path d="M163.00 457.47 L153.50 441.02 L172.50 441.02Z"/>
<path d="M163.00 443.80V449.20M157.80 443.80H168.20M157.80 449.20H168.20"/>
<path d="M194.80 503.27 L185.30 486.82 L204.30 486.82Z"/>
<path d="M194.80 490.30V494.30M189.60 490.30H200.00M189.60 494.30H200.00"/>
<path d="M224.60 534.37 L215.10 517.92 L234.10 517.92Z"/>
<path d="M224.60 521.40V525.40M219.40 521.40H229.80M219.40 525.40H229.80"/>
<path d="M276.10 573.67 L266.60 557.22 L285.60 557.22Z"/>
<path d="M276.10 561.10V564.30M270.90 561.10H281.30M270.90 564.30H281.30"/>
<path d="M327.90 599.07 L318.40 582.62 L337.40 582.62Z"/>
<path d="M327.90 587.60V588.60M322.70 587.60H333.10M322.70 588.60H333.10"/>
<path d="M378.90 616.97 L369.40 600.52 L388.40 600.52Z"/>
<path d="M378.90 605.50V606.50M373.70 605.50H384.10M373.70 606.50H384.10"/>
<path d="M429.70 628.77 L420.20 612.32 L439.20 612.32Z"/>
<path d="M429.70 617.30V618.30M424.50 617.30H434.90M424.50 618.30H434.90"/>
<path d="M481.30 638.77 L471.80 622.32 L490.80 622.32Z"/>
<path d="M481.30 627.40V628.20M476.10 627.40H486.50M476.10 628.20H486.50"/>
<path d="M583.90 651.27 L574.40 634.82 L593.40 634.82Z"/>
<path d="M583.90 639.80V640.80M578.70 639.80H589.10M578.70 640.80H589.10"/>
<path d="M686.60 659.67 L677.10 643.22 L696.10 643.22Z"/>
<path d="M686.60 648.30V649.10M681.40 648.30H691.80M681.40 649.10H691.80"/>
<path d="M891.70 668.47 L882.20 652.02 L901.20 652.02Z"/>
<path d="M891.70 655.00V660.00M886.50 655.00H896.90M886.50 660.00H896.90"/>
<circle cx="429.80" cy="617.40" r="9.50"/>
<path d="M429.80 617.00V617.80M424.60 617.00H435.00M424.60 617.80H435.00"/>
<circle cx="583.90" cy="640.40" r="9.50"/>
<path d="M583.90 640.00V640.80M578.70 640.00H589.10M578.70 640.80H589.10"/>
<circle cx="738.00" cy="650.90" r="9.50"/>
<path d="M738.00 650.50V651.30M732.80 650.50H743.20M732.80 651.30H743.20"/>
<circle cx="891.70" cy="657.60" r="9.50"/>
<path d="M891.70 657.20V658.00M886.50 657.20H896.90M886.50 658.00H896.90"/>
<rect x="650.22" y="639.02" width="16.15" height="16.15"/>
<path d="M658.30 646.70V647.50M653.10 646.70H663.50M653.10 647.50H663.50"/>
<rect x="805.92" y="647.12" width="16.15" height="16.15"/>
<path d="M814.00 654.80V655.60M808.80 654.80H819.20M808.80 655.60H819.20"/>
</g>
<rect x="50.28" y="6.70" width="861.84" height="665.70" fill="none" stroke="#000" stroke-width="1.7"/>
<g opacity="0.999">
<text transform="translate(41.60 681.75) scale(1 1.060)" font-size="26.50" text-anchor="end">0.0</text>
<text transform="translate(41.60 570.80) scale(1 1.060)" font-size="26.50" text-anchor="end">0.5</text>
<text transform="translate(41.60 459.85) scale(1 1.060)" font-size="26.50" text-anchor="end">.0</text>
<path fill="#000" d="M14.55 440.20L14.55 459.60L11.75 459.60L11.75 445.90L7.45 445.90L7.45 444.00Q11.55 443.70 12.45 440.20Z"/>
<text transform="translate(41.60 348.90) scale(1 1.060)" font-size="26.50" text-anchor="end">.5</text>
<path fill="#000" d="M14.55 329.25L14.55 348.65L11.75 348.65L11.75 334.95L7.45 334.95L7.45 333.05Q11.55 332.75 12.45 329.25Z"/>
<text transform="translate(41.60 237.95) scale(1 1.060)" font-size="26.50" text-anchor="end">2.0</text>
<text transform="translate(41.60 127.00) scale(1 1.060)" font-size="26.50" text-anchor="end">2.5</text>
<text transform="translate(71.20 700.60) scale(1 1.060)" font-size="26.50" text-anchor="middle">0</text>
<path fill="#000" d="M281.25 681.15L281.25 700.55L278.45 700.55L278.45 686.85L274.15 686.85L274.15 684.95Q278.25 684.65 279.15 681.15Z"/>
<text transform="translate(481.60 700.60) scale(1 1.060)" font-size="26.50" text-anchor="middle">2</text>
<text transform="translate(686.80 700.60) scale(1 1.060)" font-size="26.50" text-anchor="middle">3</text>
<text transform="translate(892.00 700.60) scale(1 1.060)" font-size="26.50" text-anchor="middle">4</text>
<text transform="translate(403.90 739.80) scale(1 1.040)" font-size="27.40" text-anchor="start">Q</text>
<text transform="translate(425.70 725.50) scale(1 1.000)" font-size="18.60" text-anchor="start">2</text>
<text transform="translate(442.70 739.80) scale(1 1.040)" font-size="27.40" text-anchor="start">[(GeV/c)</text>
<text transform="translate(543.00 725.50) scale(1 1.000)" font-size="18.60" text-anchor="start">2</text>
<text transform="translate(553.30 739.80) scale(1 1.040)" font-size="27.40" text-anchor="start">]</text>
<text transform="translate(292.20 124.40) scale(1 1.050)" font-size="40.00" text-anchor="start">G</text>
<text transform="translate(323.90 139.80) scale(1 0.990)" font-size="29.50" text-anchor="start">M</text>
<text transform="translate(347.00 98.60) scale(1 0.950)" font-size="29.50" text-anchor="start">p</text>
<g fill="none" stroke="#000" stroke-width="1.5">
<circle cx="660.40" cy="93.50" r="9.50"/>
<path d="M660.40 134.47 L650.90 118.02 L669.90 118.02Z"/>
<rect x="652.32" y="145.33" width="16.15" height="16.15"/>
<path d="M660.40 172.43 L650.90 188.88 L669.90 188.88Z"/>
<path d="M660.40 203.90 L669.90 213.40 L660.40 222.90 L650.90 213.40Z"/>
</g>
<g fill="none" stroke="#000" stroke-width="3.1">
<path d="M627.0 243.6H693.6"/>
<path d="M627.0 273.5H693.6" stroke-dasharray="20.3 8.3"/>
<path d="M627.0 303.8H693.6" stroke-dasharray="3.1 8.3 14.6 8.15"/>
<path d="M627.0 333.7H693.6" stroke-dasharray="3.1 8.32"/>
</g>
<text transform="translate(713.00 103.00) scale(1 1.060)" font-size="26.40" text-anchor="start">Andivahis</text>
<text transform="translate(713.00 133.00) scale(1 1.060)" font-size="26.40" text-anchor="start">Walker</text>
<text transform="translate(713.00 162.90) scale(1 1.060)" font-size="26.40" text-anchor="start">Sill</text>
<text transform="translate(713.00 192.90) scale(1 1.060)" font-size="26.40" text-anchor="start">Hoehler</text>
<text transform="translate(713.00 222.90) scale(1 1.060)" font-size="26.40" text-anchor="start">Bartel</text>
<text transform="translate(713.00 253.10) scale(1 1.060)" font-size="26.40" text-anchor="start">GBE</text>
<text transform="translate(713.00 283.00) scale(1 1.060)" font-size="26.40" text-anchor="start">OGE</text>
<text transform="translate(713.00 313.30) scale(1 1.060)" font-size="26.40" text-anchor="start">Conf.</text>
<text transform="translate(713.00 343.20) scale(1 1.060)" font-size="26.40" text-anchor="start">II</text>
</g>
</svg></body></html>
